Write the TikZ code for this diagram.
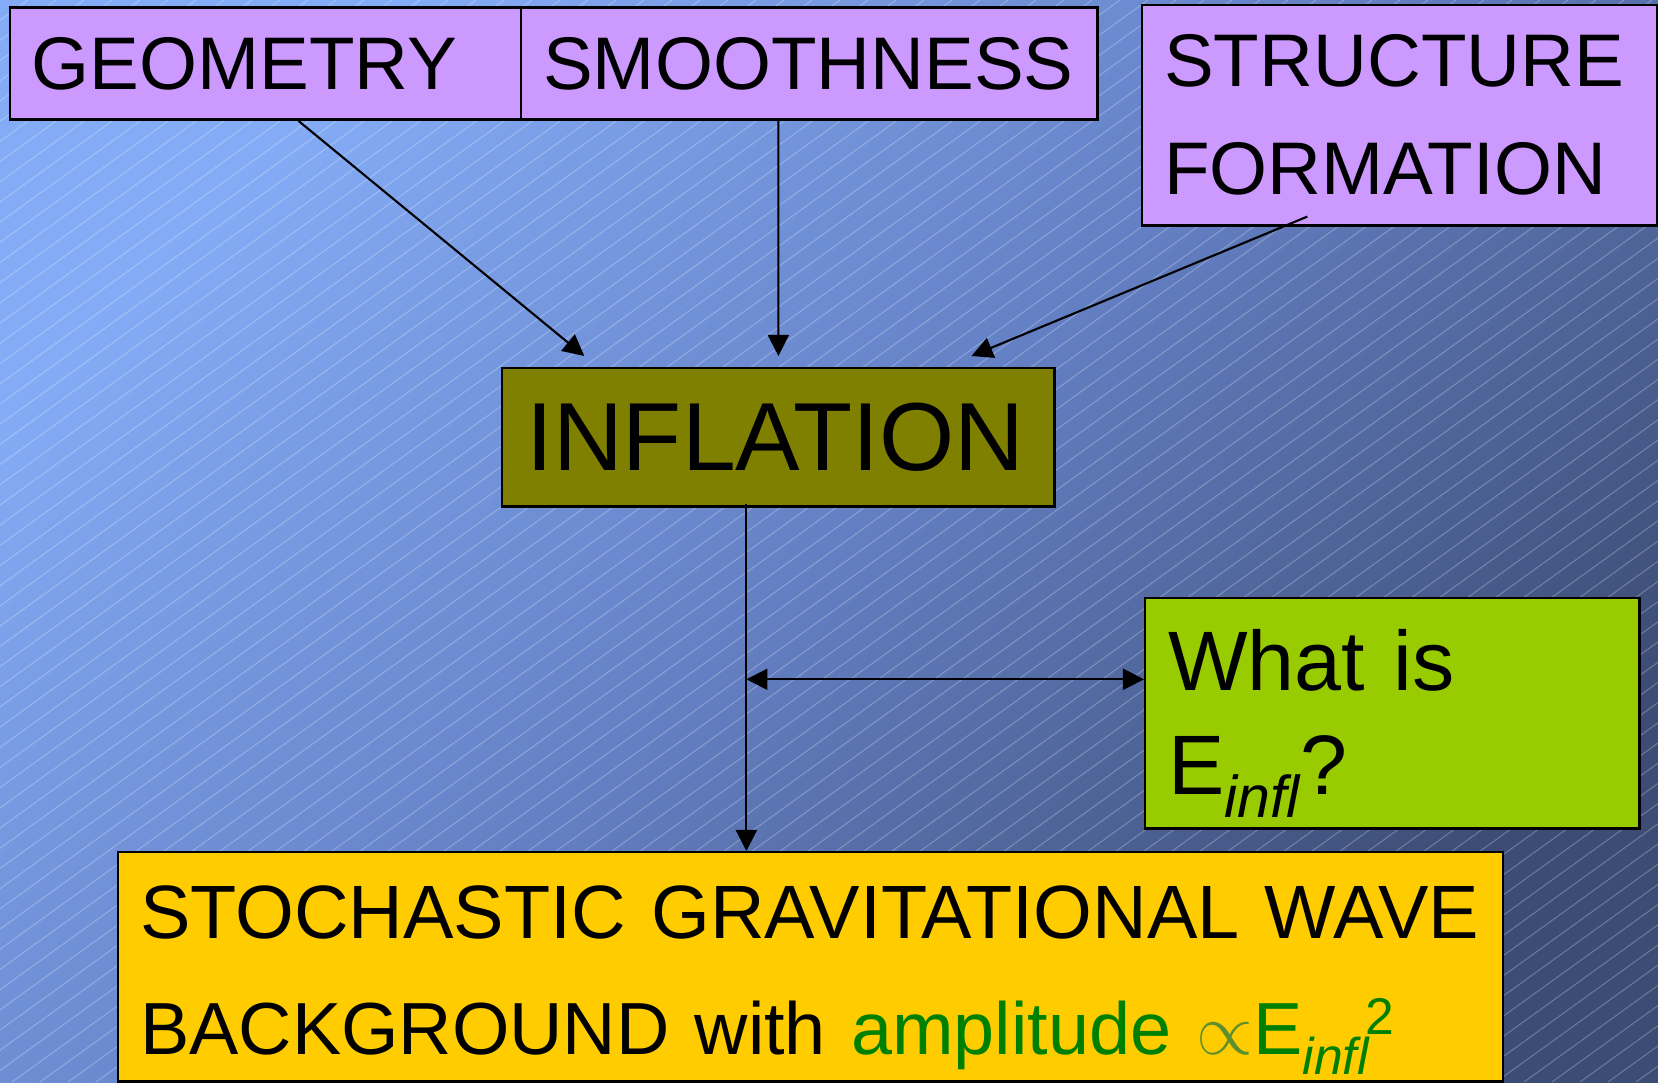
\documentclass[tikz,border=0pt]{standalone}
\usepackage{fontspec}
\setmainfont{Liberation Sans}
\usetikzlibrary{arrows.meta,calc}

\definecolor{lilac}{HTML}{CC99FF}
\definecolor{olivebox}{HTML}{808000}
\definecolor{limebox}{HTML}{99CC00}
\definecolor{goldbox}{HTML}{FFCC00}
\definecolor{ampgreen}{HTML}{008000}
\definecolor{propgreen}{HTML}{5E8F2E}
\definecolor{bgtop}{HTML}{84ACF6}
\definecolor{bgmid}{HTML}{6480C4}
\definecolor{bgbot}{HTML}{3C4C74}

\newcommand{\Einfl}{E\raisebox{-0.27em}{\scalebox{0.7}{\itshape infl}}}

\begin{document}
\begin{tikzpicture}[
  x=0.01cm, y=-0.01cm,
  box/.style={draw=black,line width=0.7pt,anchor=north west,inner xsep=0.22cm,inner ysep=0pt,align=left},
  arr/.style={-{Triangle[length=6pt,width=6pt]},line width=0.6pt},
  dbl/.style={{Triangle[length=6pt,width=6pt]}-{Triangle[length=6pt,width=6pt]},line width=0.6pt},
  hatch/.style={white,opacity=0.25,line width=0.3pt},
]
  \useasboundingbox (0,0) rectangle (1658,1082);

  % background
  \shade[top color=bgtop,bottom color=bgbot,middle color=bgmid,shading angle=45] (0,0) rectangle (1658,1082);
  \begin{scope}
    \clip (0,0) rectangle (1658,1082);
    \foreach \i in {-1500,-1472,...,1660}
      \draw[hatch] (\i,1082) -- ++(1500,-1082);
  \end{scope}

  % top row
  \node[box,fill=lilac,text width=4.67cm,minimum height=1.12cm,font=\fontsize{21.2}{30.7}\selectfont] (geom) at (8.5,6.3) {GEOMETRY};
  \node[box,fill=lilac,text width=5.32cm,minimum height=1.12cm,font=\fontsize{21.2}{30.7}\selectfont] (smooth) at (520,6.3) {SMOOTHNESS};
  \node[box,fill=lilac,text width=4.71cm,minimum height=2.2cm,font=\fontsize{21.2}{30.7}\selectfont] (struct) at (1141,4) {STRUCTURE\\FORMATION};

  % middle
  \node[box,fill=olivebox,inner xsep=0.24cm,text width=5.04cm,minimum height=1.38cm,font=\fontsize{27.5}{32}\selectfont] (infl) at (501,367) {INFLATION};
  \node[box,fill=limebox,inner xsep=0.23cm,text width=4.48cm,minimum height=2.3cm,font=\fontsize{24}{29.6}\selectfont] (what) at (1144,597) {\rule{0pt}{0.82cm}What is\\\Einfl?};

  % bottom
  \node[box,fill=goldbox,inner xsep=0.22cm,text width=13.4cm,minimum height=2.29cm,font=\fontsize{21.5}{33}\selectfont] (sgwb) at (117,851)
    {\rule{0pt}{0.79cm}STOCHASTIC GRAVITATIONAL WAVE\\\fontsize{21}{33}\selectfont BACKGROUND with \textcolor{ampgreen}{amplitude \textcolor{propgreen}{$\propto$}\Einfl\kern-0.05em\raisebox{0.27em}{\scalebox{0.7}{2}}}};

  % arrows into inflation
  \draw[arr] ([xshift=0.33cm]geom.south) -- ([xshift=-1.94cm,yshift=0.11cm]infl.north);
  \draw[arr] ([xshift=-0.31cm]smooth.south) -- ([yshift=0.11cm]infl.north);
  \draw[arr] ([xshift=-0.925cm,yshift=0.1cm]struct.south) -- ([xshift=1.93cm,yshift=0.11cm]infl.north);

  % down to the background, and the side question
  \coordinate (v) at ([xshift=-0.32cm,yshift=0.04cm]infl.south);
  \coordinate (w) at ([yshift=0.34cm]what.west);
  \draw[arr] (v) -- (v |- sgwb.north);
  \draw[dbl] (v |- w) -- (w);
\end{tikzpicture}
\end{document}
